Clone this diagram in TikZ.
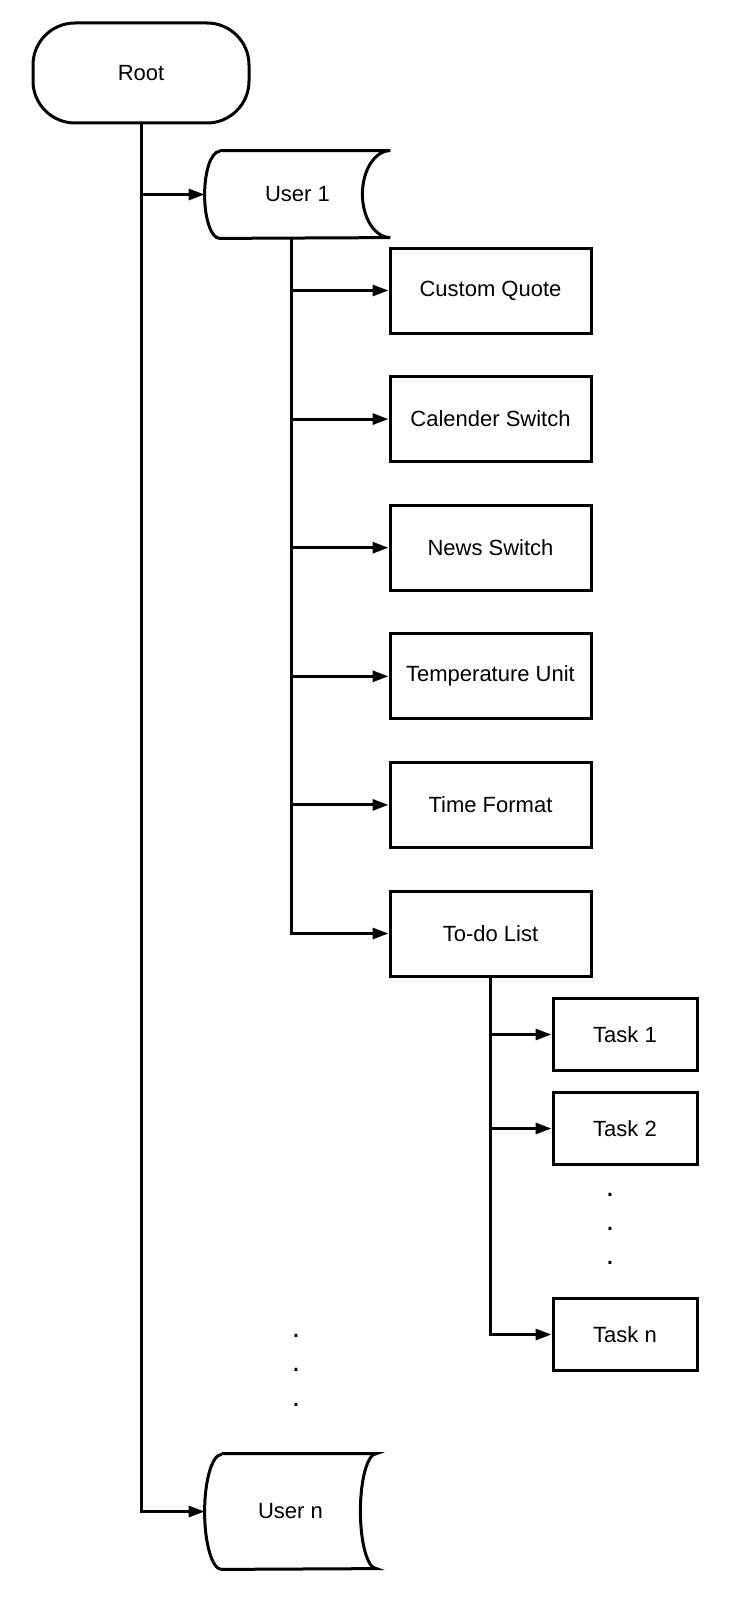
\documentclass[tikz,border=0pt]{standalone}
\usepackage{fontspec}
\setmainfont{Liberation Sans}
\usetikzlibrary{positioning,arrows.meta}

\tikzset{
  every node/.style={font=\fontsize{11}{13}\selectfont},
  setting/.style={draw,line width=1.5pt,minimum width=100.5pt,minimum height=42.5pt},
  task/.style={draw,line width=1.5pt,minimum width=72pt,minimum height=36pt},
  user/.style={minimum width=92.5pt,minimum height=43.5pt},
  dot/.style={font=\fontsize{15}{15}\selectfont},
  link/.style={-{Triangle[length=8pt,width=5.5pt]},line width=1.5pt},
}

% outline of a user record: name, left depth, right depth, half height
\newcommand{\userbox}[4]{%
  \draw[line width=1.5pt] ([xshift=#2]#1.north west) -- (#1.north east)
    arc[start angle=90,end angle=270,x radius=#3,y radius=#4]
    -- ([xshift=#2]#1.south west)
    arc[start angle=270,end angle=90,x radius=#2,y radius=#4];
}

\begin{document}
\begin{tikzpicture}
    \useasboundingbox (0,0) rectangle (365.5pt,-800pt);

    \node[draw,line width=1.5pt,rounded corners=21pt,minimum width=108pt,minimum height=50pt] (root) at (70.5pt,-36.5pt) {Root};
    \node[user] (u1) at (148.75pt,-97.25pt) {User 1};
    \userbox{u1}{7.5pt}{14pt}{21.75pt}

    \node[setting] (quote) at (245.25pt,-145.25pt) {Custom Quote};
    \node[setting] (calendar) [below of=quote,node distance=64.3pt] {Calender Switch};
    \node[setting] (news) [below of=calendar,node distance=64.3pt] {News Switch};
    \node[setting] (temp) [below of=news,node distance=64.3pt] {Temperature Unit};
    \node[setting] (time) [below of=temp,node distance=64.3pt] {Time Format};
    \node[setting] (todo) [below of=time,node distance=64.3pt] {To-do List};

    \node[task] (t1) at (312.5pt,-517.25pt) {Task 1};
    \node[task] (t2) [below of=t1,node distance=47pt] {Task 2};
    \node[task] (tn) [below of=t2,node distance=103pt] {Task n};
    \node[dot] (tdots1) at (305pt,-597.5pt) {.};
    \node[dot] (tdots2) [below of=tdots1,node distance=17pt] {.};
    \node[dot] (tdots3) [below of=tdots2,node distance=17pt] {.};

    \node[dot] (udots1) at (148pt,-667.75pt) {.};
    \node[dot] (udots2) [below of=udots1,node distance=17.25pt] {.};
    \node[dot] (udots3) [below of=udots2,node distance=17.25pt] {.};
    \node[user,minimum width=85.5pt,minimum height=57.5pt] (un) at (145.25pt,-755.75pt) {User n};
    \userbox{un}{8.5pt}{8pt}{28.75pt}

    \draw[link] (root.south) |- (u1.west);
    \draw[link] (root.south) |- (un.west);

    \draw[link] ([xshift=-3pt]u1.south) |- (quote.west);
    \draw[link] ([xshift=-3pt]u1.south) |- (calendar.west);
    \draw[link] ([xshift=-3pt]u1.south) |- (news.west);
    \draw[link] ([xshift=-3pt]u1.south) |- (temp.west);
    \draw[link] ([xshift=-3pt]u1.south) |- (time.west);
    \draw[link] ([xshift=-3pt]u1.south) |- (todo.west);

    \draw[link] (todo.south) |- (t1.west);
    \draw[link] (todo.south) |- (t2.west);
    \draw[link] (todo.south) |- (tn.west);
\end{tikzpicture}
\end{document}
